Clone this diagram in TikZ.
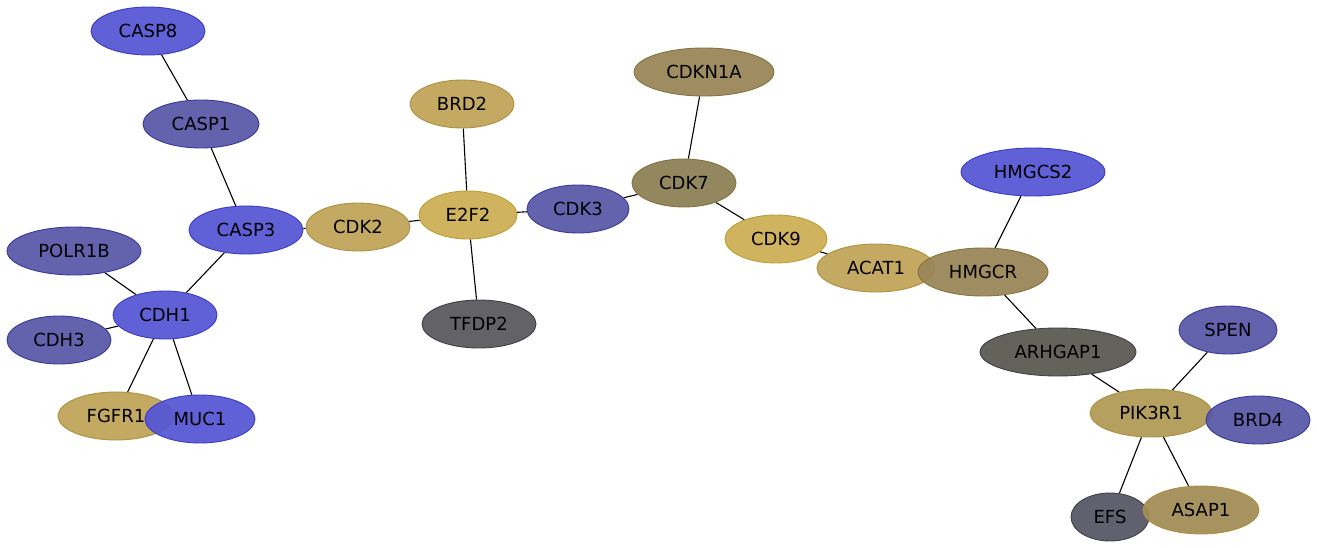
\documentclass[tikz,border=0pt]{standalone}
\usepackage{fontspec}
\setmainfont{DejaVu Sans}
\usetikzlibrary{shapes.geometric,backgrounds}
\definecolor{bblue}{HTML}{5656D4}\definecolor{bblueb}{HTML}{3C3CC4}
\definecolor{sblue}{HTML}{5858A8}\definecolor{sblueb}{HTML}{3A3A9C}
\definecolor{gold}{HTML}{CDAE55}\definecolor{goldb}{HTML}{BC9E36}
\definecolor{tan}{HTML}{BFA458}\definecolor{tanb}{HTML}{AE9140}
\definecolor{pik}{HTML}{B09A56}\definecolor{asap}{HTML}{A08C56}
\definecolor{hmg}{HTML}{998657}\definecolor{cdk7}{HTML}{8C7F55}
\definecolor{olb}{HTML}{85733E}
\definecolor{tfdp}{HTML}{58585E}\definecolor{arh}{HTML}{595952}\definecolor{efs}{HTML}{565666}
\definecolor{grb}{HTML}{404048}
\tikzset{
  gn/.style={ellipse,minimum height=48pt,inner sep=0pt,line width=0.9pt,fill opacity=0.94,text opacity=1,font=\fontsize{18}{21}\selectfont},
  nb/.style={gn,fill=bblue,draw=bblueb},
  ns/.style={gn,fill=sblue,draw=sblueb},
  ng/.style={gn,fill=gold,draw=goldb},
  nt/.style={gn,fill=tan,draw=tanb},
  edge/.style={line width=1.1pt,black}
}
\begin{document}
\begin{tikzpicture}[x=1pt,y=-1pt]
\useasboundingbox (0,0) rectangle (1317,548);
\node[nb,minimum width=114pt] (casp8) at (148,31) {CASP8};
\node[ns,minimum width=116pt] (casp1) at (201,124) {CASP1};
\node[nt,minimum width=104pt] (brd2) at (462,104) {BRD2};
\node[gn,fill=hmg,draw=olb,minimum width=140pt] (cdkn1a) at (704,72) {CDKN1A};
\node[gn,fill=cdk7,draw=olb,minimum width=104pt] (cdk7) at (684,183) {CDK7};
\node[nb,minimum width=144pt] (hmgcs2) at (1033,172) {HMGCS2};
\node[nb,minimum width=114pt] (casp3) at (246,230) {CASP3};
\node[nt,minimum width=104pt] (cdk2) at (358,227) {CDK2};
\node[ng,minimum width=98pt] (e2f2) at (468,215) {E2F2};
\node[ns,minimum width=102pt] (cdk3) at (578,209) {CDK3};
\node[ng,minimum width=102pt] (cdk9) at (776,239) {CDK9};
\node[nt,minimum width=118pt] (acat1) at (876,268) {ACAT1};
\node[gn,fill=hmg,draw=olb,minimum width=130pt] (hmgcr) at (983,272) {HMGCR};
\node[ns,minimum width=134pt] (polr1b) at (74,251) {POLR1B};
\node[nb,minimum width=104pt] (cdh1) at (165,315) {CDH1};
\node[ns,minimum width=104pt] (cdh3) at (59,340) {CDH3};
\node[gn,fill=tfdp,draw=grb,minimum width=114pt] (tfdp2) at (479,324) {TFDP2};
\node[gn,fill=arh,draw=grb,minimum width=156pt] (arhgap1) at (1058,352) {ARHGAP1};
\node[ns,minimum width=98pt] (spen) at (1228,330) {SPEN};
\node[gn,fill=pik,draw=tanb,minimum width=122pt] (pik3r1) at (1151,413) {PIK3R1};
\node[ns,minimum width=104pt] (brd4) at (1258,420) {BRD4};
\node[nt,minimum width=116pt] (fgfr1) at (116,416) {FGFR1};
\node[nb,minimum width=110pt] (muc1) at (200,419) {MUC1};
\node[gn,fill=efs,draw=grb,minimum width=78pt] (efs) at (1110,517) {EFS};
\node[gn,fill=asap,draw=tanb,minimum width=116pt] (asap1) at (1201,510) {ASAP1};
\begin{scope}[on background layer]
\draw[edge] (casp8) -- (casp1);
\draw[edge] (casp1) -- (casp3);
\draw[edge] (casp3) -- (cdk2);
\draw[edge] (casp3) -- (cdh1);
\draw[edge] (cdk2) -- (e2f2);
\draw[edge] (brd2) -- (e2f2);
\draw[edge] (e2f2) -- (tfdp2);
\draw[edge] (e2f2) -- (cdk3);
\draw[edge] (cdk3) -- (cdk7);
\draw[edge] (cdkn1a) -- (cdk7);
\draw[edge] (cdk7) -- (cdk9);
\draw[edge] (cdk9) -- (acat1);
\draw[edge] (hmgcs2) -- (hmgcr);
\draw[edge] (hmgcr) -- (arhgap1);
\draw[edge] (arhgap1) -- (pik3r1);
\draw[edge] (spen) -- (pik3r1);
\draw[edge] (pik3r1) -- (efs);
\draw[edge] (pik3r1) -- (asap1);
\draw[edge] (polr1b) -- (cdh1);
\draw[edge] (cdh3) -- (cdh1);
\draw[edge] (cdh1) -- (fgfr1);
\draw[edge] (cdh1) -- (muc1);
\end{scope}
\end{tikzpicture}
\end{document}
